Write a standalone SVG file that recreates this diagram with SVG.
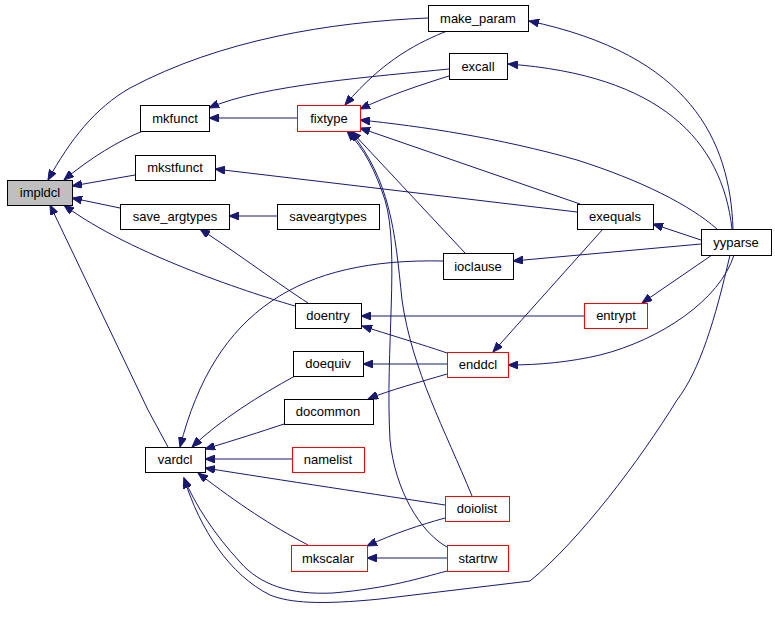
<svg xmlns="http://www.w3.org/2000/svg" width="775" height="619" viewBox="0 0 775 619">
<style>
.n rect{fill:#fff;stroke:#000;stroke-width:1}
.n.r rect{stroke:#ff0000}
.n.g rect{fill:#bfbfbf}
.n text{font-family:"Liberation Sans",Arial,sans-serif;font-size:13px;fill:#000;text-anchor:middle}
#edges path{fill:none;stroke:#191970;stroke-width:1;marker-end:url(#ah)}
</style>
<defs>
<marker id="ah" markerUnits="userSpaceOnUse" markerWidth="11" markerHeight="8" refX="10" refY="4" orient="auto">
<path d="M0,0 L10,4 L0,8 z" fill="#191970" stroke="#191970" stroke-width="1"/>
</marker>
</defs>
<rect width="775" height="619" fill="#fff"/>
<g id="edges">
<path d="M428,18 C330,22 220,40 130,88 C95,108 70,140 48,180"/>
<path d="M143,131 C120,140 90,158 64,180"/>
<path d="M135,175 L72,186"/>
<path d="M120,208 L72,198"/>
<path d="M295,306 C260,296 130,255 64,205"/>
<path d="M168,447 L148,410 L50,205"/>
<path d="M297,118 L209,118"/>
<path d="M449,69 C380,76 260,85 209,108"/>
<path d="M447,31 C420,42 385,58 345,105"/>
<path d="M449,76 C420,85 390,95 360,109"/>
<path d="M733,229 C730,140 690,55 529,21"/>
<path d="M732,229 C722,140 660,75 508,64"/>
<path d="M717,229 C690,205 640,180 577,160 C500,138 420,126 360,120"/>
<path d="M580,204 L360,128"/>
<path d="M465,253 L351,131"/>
<path d="M472,496 C445,430 412,370 402,300 C395,230 390,180 350,131"/>
<path d="M447,547 C420,532 395,490 390,440 C385,350 400,250 385,200 C375,170 365,150 347,131"/>
<path d="M577,212 L215,169"/>
<path d="M277,216 L229,216"/>
<path d="M308,303 C280,285 240,255 200,229"/>
<path d="M701,240 L653,224"/>
<path d="M701,244 L513,261"/>
<path d="M443,261 C300,258 215,310 180,447"/>
<path d="M712,255 L642,303"/>
<path d="M734,255 C720,300 660,340 600,355 C570,362 540,365 508,365"/>
<path d="M730,255 C715,320 700,370 677,400 C640,460 580,540 530,581 L380,599 C320,605 290,603 270,595 C230,575 200,530 184,478"/>
<path d="M603,229 L493,352"/>
<path d="M584,316 L361,316"/>
<path d="M447,353 C430,347 400,338 362,326"/>
<path d="M447,364 L363,364"/>
<path d="M447,374 C420,382 390,390 368,399"/>
<path d="M295,376 C260,395 220,420 192,447"/>
<path d="M284,424 C260,432 235,440 205,449"/>
<path d="M292,459 L205,459"/>
<path d="M445,505 C380,495 280,480 205,468"/>
<path d="M308,545 C270,525 240,505 198,473"/>
<path d="M447,571 C420,578 390,588 333,593 C290,595 260,585 240,562 C215,535 195,505 184,478"/>
<path d="M445,518 C420,525 395,533 367,546"/>
<path d="M447,558 L367,558"/>
</g>
<g id="impldcl" class="n g"><rect x="7.5" y="180.5" width="65" height="25"/><text x="40" y="197">impldcl</text></g>
<g id="mkfunct" class="n"><rect x="140.5" y="105.5" width="69" height="26"/><text x="175" y="123">mkfunct</text></g>
<g id="fixtype" class="n r"><rect x="297.5" y="105.5" width="63" height="26"/><text x="329" y="123">fixtype</text></g>
<g id="mkstfunct" class="n"><rect x="135.5" y="155.5" width="80" height="25"/><text x="175" y="172">mkstfunct</text></g>
<g id="save_argtypes" class="n"><rect x="120.5" y="204.5" width="109" height="25"/><text x="175" y="221">save_argtypes</text></g>
<g id="saveargtypes" class="n"><rect x="277.5" y="204.5" width="102" height="25"/><text x="328" y="221">saveargtypes</text></g>
<g id="make_param" class="n"><rect x="428.5" y="5.5" width="100" height="26"/><text x="478" y="23">make_param</text></g>
<g id="excall" class="n"><rect x="449.5" y="53.5" width="58" height="26"/><text x="478" y="71">excall</text></g>
<g id="exequals" class="n"><rect x="577.5" y="204.5" width="76" height="25"/><text x="615" y="221">exequals</text></g>
<g id="yyparse" class="n"><rect x="701.5" y="229.5" width="70" height="26"/><text x="736" y="247">yyparse</text></g>
<g id="ioclause" class="n"><rect x="443.5" y="253.5" width="70" height="26"/><text x="478" y="271">ioclause</text></g>
<g id="entrypt" class="n r"><rect x="584.5" y="303.5" width="63" height="25"/><text x="616" y="320">entrypt</text></g>
<g id="enddcl" class="n r"><rect x="447.5" y="352.5" width="61" height="25"/><text x="478" y="369">enddcl</text></g>
<g id="doentry" class="n"><rect x="295.5" y="303.5" width="66" height="25"/><text x="328" y="320">doentry</text></g>
<g id="doequiv" class="n"><rect x="293.5" y="351.5" width="70" height="25"/><text x="328" y="368">doequiv</text></g>
<g id="docommon" class="n"><rect x="284.5" y="399.5" width="89" height="25"/><text x="328" y="416">docommon</text></g>
<g id="vardcl" class="n"><rect x="145.5" y="447.5" width="60" height="25"/><text x="175" y="464">vardcl</text></g>
<g id="namelist" class="n r"><rect x="292.5" y="447.5" width="72" height="25"/><text x="328" y="464">namelist</text></g>
<g id="mkscalar" class="n r"><rect x="291.5" y="545.5" width="76" height="26"/><text x="328" y="563">mkscalar</text></g>
<g id="doiolist" class="n r"><rect x="445.5" y="496.5" width="64" height="25"/><text x="477" y="513">doiolist</text></g>
<g id="startrw" class="n r"><rect x="447.5" y="545.5" width="61" height="26"/><text x="478" y="563">startrw</text></g>
</svg>
